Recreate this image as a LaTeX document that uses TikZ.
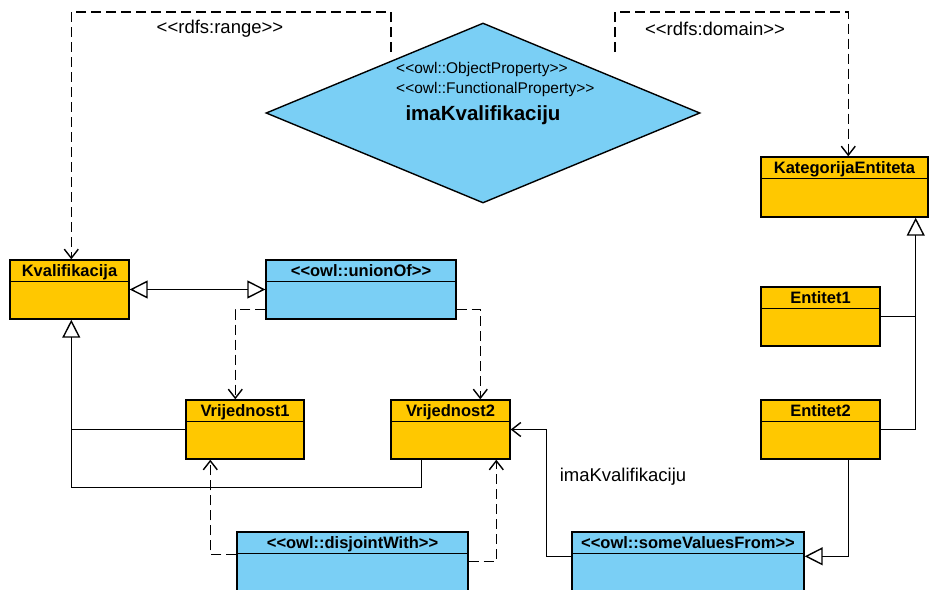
\documentclass[tikz,border=0pt]{standalone}
\usepackage{fontspec}
\newfontfamily\umlfont{Liberation Sans}
\usetikzlibrary{positioning, arrows.meta, shapes.geometric, fit, calc}
\definecolor{klasaorange}{RGB}{255,200,0}
\definecolor{owlplava}{RGB}{122,207,245}
\tikzset{
  klasa/.style={draw=black, line width=1.4pt, inner sep=0pt},
  naslov/.style={font=\umlfont\fontsize{16.5}{19}\selectfont\bfseries, inner sep=0pt, anchor=base},
  stereotip/.style={font=\umlfont\fontsize{15.5}{18}\selectfont, inner sep=0pt, anchor=west},
  oznaka/.style={font=\umlfont\fontsize{18.5}{22}\selectfont, inner sep=0pt},
  veza/.style={draw=black, line width=1.4pt},
  ovisnost/.style={veza, dash pattern=on 10pt off 5pt, -{Straight Barb[length=9pt, width=14pt]}},
  pridruzba/.style={veza, -{Straight Barb[length=9pt, width=14pt]}},
  nasljedje/.style={veza, -{Triangle[open, length=18pt, width=18pt]}},
  dvostruko/.style={veza, {Triangle[open, length=18pt, width=18pt]}-{Triangle[open, length=18pt, width=18pt]}}
}

\begin{document}
\begin{tikzpicture}[x=1pt, y=-1pt]
  \useasboundingbox (0,0) rectangle (929,589);

  % property
  \node[klasa, diamond, fill=owlplava, minimum width=434pt, minimum height=180pt] (svojstvo) at (483,113) {};
  \node[stereotip] (svojstvo-st1) at (396,69) {<<owl::ObjectProperty>>};
  \node[stereotip] (svojstvo-st2) at (396,89) {<<owl::FunctionalProperty>>};
  \node[font=\umlfont\fontsize{20.5}{24}\selectfont\bfseries, inner sep=0pt] (svojstvo-ime) at (483,115) {imaKvalifikaciju};

  % classes
  \foreach \ime/\xa/\ya/\xb/\yb/\boja/\tekst in {
      kval/10/260/129/319/klasaorange/Kvalifikacija,
      unija/266/260/456/319/owlplava/<<owl::unionOf>>,
      vr1/186/400/304/459/klasaorange/Vrijednost1,
      vr2/391/400/510/459/klasaorange/Vrijednost2,
      kat/761/157/928/217/klasaorange/KategorijaEntiteta,
      ent1/761/287/880/346/klasaorange/Entitet1,
      ent2/761/400/880/459/klasaorange/Entitet2,
      disj/237/532/468/620/owlplava/<<owl::disjointWith>>,
      svf/572/532/804/620/owlplava/<<owl::someValuesFrom>>}
  {
    \node[klasa, fill=\boja, fit={(\xa,\ya) (\xb,\yb)}] (\ime) {};
    \draw[line width=1.4pt] ($(\ime.north west)+(0,22)$) -- ($(\ime.north east)+(0,22)$);
    \node[naslov] (\ime-naslov) at ($(\ime.north)+(0,17.5)$) {\tekst};
  }

  % range and domain
  \coordinate (rangepoc) at (391,52);
  \coordinate (dompoc) at (615,52);
  \draw[ovisnost] (rangepoc) -- ++(0,-40) -| ($(kval.north west)+(62,0)$);
  \draw[ovisnost] (dompoc) -- ++(0,-40) -| ($(kat.north west)+(88,0)$);
  \node[oznaka] (range-oznaka) at (220,29) {<<rdfs:range>>};
  \node[oznaka] (dom-oznaka) at (715,29) {<<rdfs:domain>>};

  % union
  \draw[dvostruko] (kval.east) -- (unija.west);
  \draw[ovisnost] ($(unija.south west)+(0,-10)$) -| ($(vr1.north west)+(50,0)$);
  \draw[ovisnost] ($(unija.south east)+(0,-10)$) -| ($(vr2.north west)+(90,0)$);

  % subclasses of Kvalifikacija
  \coordinate (kvalbaza) at ($(kval.south west)+(62,0)$);
  \draw[veza] (vr1.west) -- (vr1.west -| kvalbaza);
  \draw[nasljedje] ($(vr2.south west)+(31,0)$) -- ++(0,28) -| (kvalbaza);

  % disjoint
  \draw[ovisnost] ($(disj.north west)+(0,23)$) -| ($(vr1.south west)+(25,0)$);
  \draw[ovisnost] ($(disj.north east)+(0,30)$) -| ($(vr2.south west)+(106,0)$);

  % someValuesFrom
  \draw[pridruzba] ($(svf.north west)+(0,25)$) -- ++(-25,0) |- (vr2.east);
  \node[oznaka] (svf-oznaka) at (623,477) {imaKvalifikaciju};
  \draw[nasljedje] ($(ent2.south west)+(88,0)$) |- ($(svf.north east)+(0,25)$);

  % subclasses of KategorijaEntiteta
  \coordinate (katbaza) at ($(kat.south east)+(-13,0)$);
  \draw[veza] (ent1.east) -- (ent1.east -| katbaza);
  \draw[nasljedje] (ent2.east) -| (katbaza);
\end{tikzpicture}
\end{document}
